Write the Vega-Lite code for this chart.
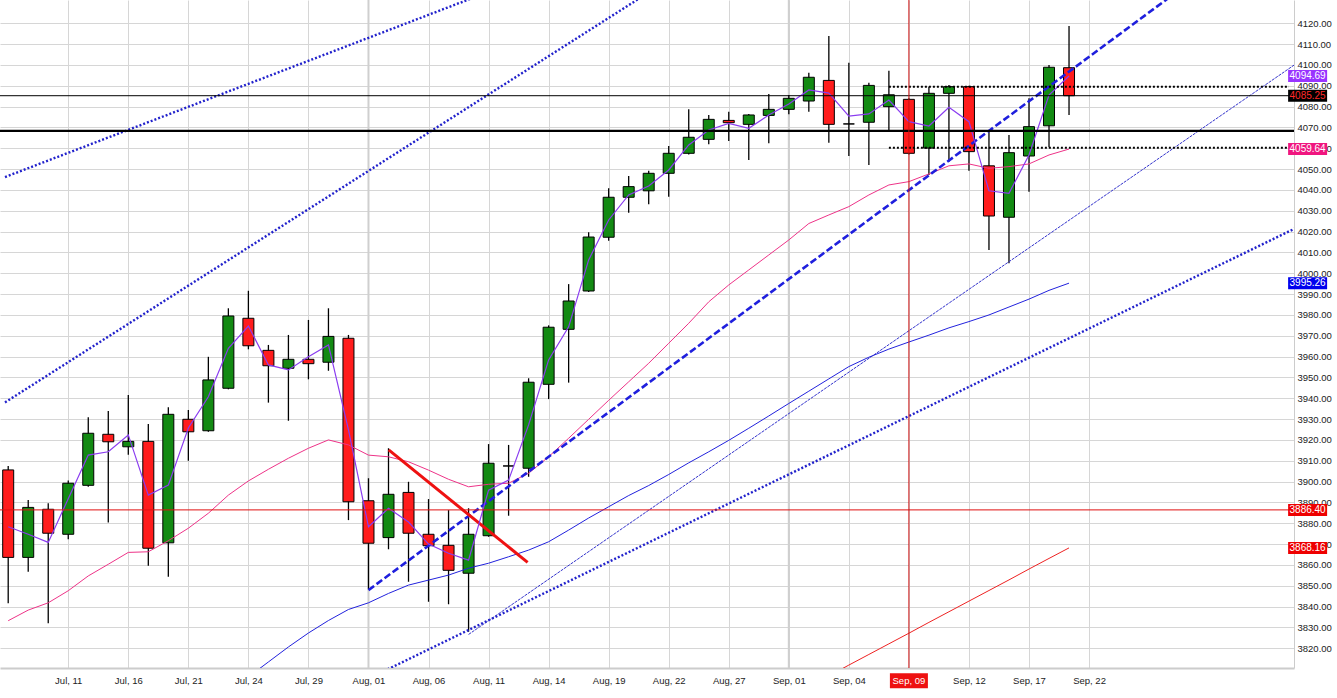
{
  "$schema": "https://vega.github.io/schema/vega-lite/v6.json",
  "width": 1294,
  "height": 668,
  "autosize": {"type": "none"},
  "padding": {"left": 0, "top": 0, "right": 43, "bottom": 30},
  "background": "#ffffff",
  "config": {
    "view": {"stroke": null},
    "axis": {"labelFont": "Liberation Sans", "labelFontSize": 9.5, "labelColor": "#222222"}
  },
  "resolve": {"axis": {"x": "independent", "y": "independent"}},
  "datasets": {
    "candles": [
      {"i":0,"date":"2025-07-08","open":3905.6,"high":3907.5,"low":3841.6,"close":3863.6,"ma_fast":3878.3,"ma_mid":3833.2,"ma_slow":null,"ma_long":null},
      {"i":1,"date":"2025-07-09","open":3863.6,"high":3891.2,"low":3856.7,"close":3887.6,"ma_fast":3874.7,"ma_mid":3838.3,"ma_slow":null,"ma_long":null},
      {"i":2,"date":"2025-07-10","open":3886.7,"high":3889.6,"low":3832.0,"close":3875.2,"ma_fast":3870.8,"ma_mid":3841.8,"ma_slow":null,"ma_long":null},
      {"i":3,"date":"2025-07-11","open":3874.7,"high":3900.5,"low":3872.3,"close":3899.2,"ma_fast":3891.8,"ma_mid":3847.6,"ma_slow":null,"ma_long":null},
      {"i":4,"date":"2025-07-14","open":3898.2,"high":3930.9,"low":3897.5,"close":3923.2,"ma_fast":3912.7,"ma_mid":3854.7,"ma_slow":null,"ma_long":null},
      {"i":5,"date":"2025-07-15","open":3922.7,"high":3933.9,"low":3880.3,"close":3919.1,"ma_fast":3914.3,"ma_mid":3860.3,"ma_slow":null,"ma_long":null},
      {"i":6,"date":"2025-07-16","open":3916.7,"high":3941.6,"low":3912.9,"close":3919.3,"ma_fast":3922.4,"ma_mid":3866.0,"ma_slow":null,"ma_long":null},
      {"i":7,"date":"2025-07-17","open":3919.3,"high":3927.6,"low":3859.6,"close":3868.0,"ma_fast":3893.5,"ma_mid":3866.3,"ma_slow":null,"ma_long":null},
      {"i":8,"date":"2025-07-18","open":3870.6,"high":3935.7,"low":3854.3,"close":3932.3,"ma_fast":3898.3,"ma_mid":3871.6,"ma_slow":null,"ma_long":null},
      {"i":9,"date":"2025-07-21","open":3929.9,"high":3934.4,"low":3910.0,"close":3923.9,"ma_fast":3925.7,"ma_mid":3877.6,"ma_slow":null,"ma_long":null},
      {"i":10,"date":"2025-07-22","open":3924.4,"high":3959.9,"low":3923.9,"close":3948.8,"ma_fast":3940.7,"ma_mid":3884.8,"ma_slow":null,"ma_long":null},
      {"i":11,"date":"2025-07-23","open":3944.8,"high":3983.2,"low":3944.3,"close":3979.5,"ma_fast":3964.0,"ma_mid":3893.5,"ma_slow":null,"ma_long":null},
      {"i":12,"date":"2025-07-24","open":3978.4,"high":3991.6,"low":3963.5,"close":3965.2,"ma_fast":3974.7,"ma_mid":3900.3,"ma_slow":3806.2,"ma_long":null},
      {"i":13,"date":"2025-07-25","open":3963.0,"high":3965.6,"low":3937.9,"close":3955.6,"ma_fast":3956.0,"ma_mid":3905.9,"ma_slow":3813.4,"ma_long":null},
      {"i":14,"date":"2025-07-28","open":3954.4,"high":3970.4,"low":3929.2,"close":3958.7,"ma_fast":3953.6,"ma_mid":3911.2,"ma_slow":3820.6,"ma_long":null},
      {"i":15,"date":"2025-07-29","open":3958.7,"high":3977.6,"low":3949.1,"close":3956.6,"ma_fast":3959.9,"ma_mid":3916.0,"ma_slow":3827.3,"ma_long":null},
      {"i":16,"date":"2025-07-30","open":3957.3,"high":3983.2,"low":3953.2,"close":3969.7,"ma_fast":3965.6,"ma_mid":3920.0,"ma_slow":3833.3,"ma_long":null},
      {"i":17,"date":"2025-07-31","open":3968.8,"high":3970.4,"low":3881.5,"close":3890.3,"ma_fast":3924.8,"ma_mid":3917.6,"ma_slow":3838.6,"ma_long":null},
      {"i":18,"date":"2025-08-01","open":3890.8,"high":3901.6,"low":3848.3,"close":3870.4,"ma_fast":3878.3,"ma_mid":3912.7,"ma_slow":3841.8,"ma_long":null},
      {"i":19,"date":"2025-08-04","open":3873.1,"high":3916.0,"low":3867.5,"close":3893.9,"ma_fast":3887.2,"ma_mid":3911.9,"ma_slow":3846.3,"ma_long":null},
      {"i":20,"date":"2025-08-05","open":3894.8,"high":3899.9,"low":3851.9,"close":3875.2,"ma_fast":3880.6,"ma_mid":3909.5,"ma_slow":3850.3,"ma_long":null},
      {"i":21,"date":"2025-08-06","open":3874.7,"high":3891.6,"low":3842.3,"close":3869.2,"ma_fast":3870.0,"ma_mid":3905.5,"ma_slow":3852.7,"ma_long":null},
      {"i":22,"date":"2025-08-07","open":3869.4,"high":3886.3,"low":3841.1,"close":3857.4,"ma_fast":3865.6,"ma_mid":3901.1,"ma_slow":3855.1,"ma_long":null},
      {"i":23,"date":"2025-08-08","open":3856.0,"high":3887.2,"low":3827.9,"close":3874.7,"ma_fast":3862.3,"ma_mid":3897.5,"ma_slow":3858.4,"ma_long":null},
      {"i":24,"date":"2025-08-11","open":3874.0,"high":3918.0,"low":3873.5,"close":3908.8,"ma_fast":3895.9,"ma_mid":3898.7,"ma_slow":3860.8,"ma_long":null},
      {"i":25,"date":"2025-08-12","open":3907.5,"high":3917.6,"low":3883.6,"close":3907.5,"ma_fast":3900.7,"ma_mid":3899.2,"ma_slow":3863.9,"ma_long":null},
      {"i":26,"date":"2025-08-13","open":3906.4,"high":3949.6,"low":3902.3,"close":3947.7,"ma_fast":3927.2,"ma_mid":3904.0,"ma_slow":3867.1,"ma_long":null},
      {"i":27,"date":"2025-08-14","open":3946.7,"high":3975.0,"low":3939.6,"close":3974.1,"ma_fast":3958.4,"ma_mid":3911.9,"ma_slow":3871.1,"ma_long":null},
      {"i":28,"date":"2025-08-15","open":3973.1,"high":3994.8,"low":3947.5,"close":3986.7,"ma_fast":3974.3,"ma_mid":3920.8,"ma_slow":3876.7,"ma_long":null},
      {"i":29,"date":"2025-08-18","open":3991.5,"high":4019.7,"low":3991.0,"close":4017.4,"ma_fast":4006.4,"ma_mid":3929.9,"ma_slow":3882.5,"ma_long":null},
      {"i":30,"date":"2025-08-19","open":4017.3,"high":4040.8,"low":4015.6,"close":4036.5,"ma_fast":4025.6,"ma_mid":3939.0,"ma_slow":3887.9,"ma_long":null},
      {"i":31,"date":"2025-08-20","open":4036.5,"high":4046.7,"low":4029.1,"close":4041.6,"ma_fast":4037.6,"ma_mid":3947.9,"ma_slow":3893.3,"ma_long":null},
      {"i":32,"date":"2025-08-21","open":4039.6,"high":4049.2,"low":4033.1,"close":4048.0,"ma_fast":4041.9,"ma_mid":3956.8,"ma_slow":3898.1,"ma_long":null},
      {"i":33,"date":"2025-08-22","open":4048.0,"high":4061.1,"low":4036.8,"close":4057.6,"ma_fast":4049.6,"ma_mid":3966.4,"ma_slow":3903.4,"ma_long":null},
      {"i":34,"date":"2025-08-25","open":4057.6,"high":4078.7,"low":4057.0,"close":4065.3,"ma_fast":4061.6,"ma_mid":3976.0,"ma_slow":3909.0,"ma_long":null},
      {"i":35,"date":"2025-08-26","open":4064.3,"high":4076.0,"low":4061.9,"close":4073.9,"ma_fast":4068.8,"ma_mid":3986.3,"ma_slow":3914.3,"ma_long":null},
      {"i":36,"date":"2025-08-27","open":4073.4,"high":4077.6,"low":4063.5,"close":4072.3,"ma_fast":4072.0,"ma_mid":3994.4,"ma_slow":3919.8,"ma_long":null},
      {"i":37,"date":"2025-08-28","open":4071.5,"high":4076.5,"low":4054.4,"close":4076.0,"ma_fast":4069.6,"ma_mid":4001.6,"ma_slow":3925.6,"ma_long":null},
      {"i":38,"date":"2025-08-29","open":4075.8,"high":4086.1,"low":4062.4,"close":4078.7,"ma_fast":4076.0,"ma_mid":4008.8,"ma_slow":3931.5,"ma_long":null},
      {"i":39,"date":"2025-09-01","open":4078.7,"high":4085.6,"low":4076.3,"close":4084.0,"ma_fast":4081.3,"ma_mid":4016.0,"ma_slow":3937.5,"ma_long":null},
      {"i":40,"date":"2025-09-02","open":4082.7,"high":4096.3,"low":4077.6,"close":4094.1,"ma_fast":4088.0,"ma_mid":4023.9,"ma_slow":3943.4,"ma_long":null},
      {"i":41,"date":"2025-09-03","open":4092.6,"high":4113.9,"low":4062.7,"close":4071.5,"ma_fast":4086.5,"ma_mid":4028.0,"ma_slow":3949.3,"ma_long":3806.7},
      {"i":42,"date":"2025-09-04","open":4071.7,"high":4101.1,"low":4056.3,"close":4071.7,"ma_fast":4075.5,"ma_mid":4032.0,"ma_slow":3955.2,"ma_long":3811.9},
      {"i":43,"date":"2025-09-05","open":4072.5,"high":4091.5,"low":4052.0,"close":4090.2,"ma_fast":4076.5,"ma_mid":4037.6,"ma_slow":3959.7,"ma_long":3817.0},
      {"i":44,"date":"2025-09-08","open":4080.0,"high":4097.2,"low":4068.4,"close":4085.7,"ma_fast":4083.2,"ma_mid":4042.4,"ma_slow":3963.6,"ma_long":3822.1},
      {"i":45,"date":"2025-09-09","open":4083.5,"high":4084.0,"low":4057.0,"close":4057.6,"ma_fast":4072.8,"ma_mid":4044.0,"ma_slow":3967.0,"ma_long":3827.2},
      {"i":46,"date":"2025-09-10","open":4060.1,"high":4089.6,"low":4047.2,"close":4086.4,"ma_fast":4070.7,"ma_mid":4047.7,"ma_slow":3970.3,"ma_long":3832.4},
      {"i":47,"date":"2025-09-11","open":4086.4,"high":4090.4,"low":4053.6,"close":4089.6,"ma_fast":4079.7,"ma_mid":4051.6,"ma_slow":3973.8,"ma_long":3837.5},
      {"i":48,"date":"2025-09-12","open":4089.6,"high":4090.0,"low":4049.2,"close":4058.4,"ma_fast":4072.8,"ma_mid":4052.5,"ma_slow":3976.8,"ma_long":3842.6},
      {"i":49,"date":"2025-09-15","open":4051.6,"high":4068.0,"low":4011.2,"close":4027.5,"ma_fast":4039.6,"ma_mid":4050.4,"ma_slow":3980.0,"ma_long":3847.7},
      {"i":50,"date":"2025-09-16","open":4026.9,"high":4066.4,"low":4004.8,"close":4057.9,"ma_fast":4038.4,"ma_mid":4051.2,"ma_slow":3983.8,"ma_long":3852.8},
      {"i":51,"date":"2025-09-17","open":4056.3,"high":4084.0,"low":4039.2,"close":4070.4,"ma_fast":4056.8,"ma_mid":4052.5,"ma_slow":3987.6,"ma_long":3858.0},
      {"i":52,"date":"2025-09-18","open":4070.8,"high":4100.0,"low":4060.5,"close":4098.9,"ma_fast":4085.6,"ma_mid":4056.8,"ma_slow":3991.8,"ma_long":3863.1},
      {"i":53,"date":"2025-09-19","open":4098.7,"high":4118.7,"low":4076.0,"close":4085.25,"ma_fast":4094.69,"ma_mid":4059.64,"ma_slow":3995.26,"ma_long":3868.16}
    ],
    "trend": [
      {"id":"channel_top","i":-0.16,"p":4046.2},{"id":"channel_top","i":30,"p":4157.2},
      {"id":"channel_mid","i":-0.16,"p":3938.0},{"id":"channel_mid","i":40,"p":4183.8},
      {"id":"channel_low","i":15,"p":3791.4},{"id":"channel_low","i":66,"p":4029.5},
      {"id":"support_dash","i":18,"p":3847.9},{"id":"support_dash","i":60,"p":4146.6},
      {"id":"support_thin","i":23,"p":3826.6},{"id":"support_thin","i":66,"p":4111.6},
      {"id":"down_red","i":19.01,"p":3915.2},{"id":"down_red","i":25.95,"p":3861.2}
    ],
    "badges": [
      {"name":"fast","value":4094.69},
      {"name":"last","value":4085.25},
      {"name":"mid","value":4059.64},
      {"name":"slow","value":3995.26},
      {"name":"hline","value":3886.40},
      {"name":"long","value":3868.16}
    ]
  },
  "layer": [
    {
      "data": {"values": [{"i": 18, "month": "Aug"}, {"i": 39, "month": "Sep"}]},
      "mark": {"type": "rule", "color": "#cfcfcf", "strokeWidth": 2},
      "encoding": {
        "x": {"field": "i", "type": "quantitative", "scale": {"domain": [-0.16, 63.99], "nice": false, "zero": false},
          "axis": {"orient": "bottom", "values": [3,6,9,12,15,18,21,24,27,30,33,36,39,42,45,48,51,54],
            "labelExpr": "['Jul, 11','Jul, 16','Jul, 21','Jul, 24','Jul, 29','Aug, 01','Aug, 06','Aug, 11','Aug, 14','Aug, 19','Aug, 22','Aug, 27','Sep, 01','Sep, 04','','Sep, 12','Sep, 17','Sep, 22'][round(datum.value/3)-1]",
            "grid": true, "gridColor": "#d6d6d6", "gridWidth": 1, "tickSize": 0, "domainColor": "#cccccc", "domainWidth": 2,
            "labelPadding": 7, "title": null, "labelFlush": false, "labelOverlap": false}}
      }
    },
    {
      "data": {"name": "candles"},
      "mark": {"type": "rule", "color": "#000000", "strokeWidth": 1.3},
      "encoding": {
        "x": {"field": "i", "type": "quantitative", "scale": {"domain": [-0.16, 63.99], "nice": false, "zero": false}, "axis": null},
        "y": {"field": "low", "type": "quantitative", "scale": {"domain": [3810.5, 4131.2], "nice": false, "zero": false},
          "axis": {"orient": "right", "values": [3820,3830,3840,3850,3860,3870,3880,3890,3900,3910,3920,3930,3940,3950,3960,3970,3980,3990,4000,4010,4020,4030,4040,4050,4060,4070,4080,4090,4100,4110,4120],
            "format": ".2f", "grid": true, "gridColor": "#d6d6d6", "gridWidth": 1, "tickSize": 0, "domainColor": "#cccccc", "domainWidth": 1,
            "labelPadding": 3, "title": null, "labelFlush": false, "labelOverlap": false}},
        "y2": {"field": "high"}
      }
    },
    {
      "data": {"name": "candles"},
      "mark": {"type": "bar", "width": 11, "stroke": "#000000", "strokeWidth": 1},
      "encoding": {
        "x": {"field": "i", "type": "quantitative", "scale": {"domain": [-0.16, 63.99], "nice": false, "zero": false}, "axis": null},
        "y": {"field": "open", "type": "quantitative", "scale": {"domain": [3810.5, 4131.2], "nice": false, "zero": false}, "axis": null},
        "y2": {"field": "close"},
        "fill": {"condition": [{"test": "datum.close > datum.open", "value": "#138a13"}, {"test": "datum.close < datum.open", "value": "#ff1c1c"}], "value": "#000000"}
      }
    },
    {
      "data": {"name": "candles"},
      "transform": [{"filter": "datum.ma_mid != null"}],
      "mark": {"type": "line", "color": "#ee3388", "strokeWidth": 1, "clip": true},
      "encoding": {
        "x": {"field": "i", "type": "quantitative", "scale": {"domain": [-0.16, 63.99], "nice": false, "zero": false}, "axis": null},
        "y": {"field": "ma_mid", "type": "quantitative", "scale": {"domain": [3810.5, 4131.2], "nice": false, "zero": false}, "axis": null}
      }
    },
    {
      "data": {"name": "candles"},
      "transform": [{"filter": "datum.ma_slow != null"}],
      "mark": {"type": "line", "color": "#2222dd", "strokeWidth": 1, "clip": true},
      "encoding": {
        "x": {"field": "i", "type": "quantitative", "scale": {"domain": [-0.16, 63.99], "nice": false, "zero": false}, "axis": null},
        "y": {"field": "ma_slow", "type": "quantitative", "scale": {"domain": [3810.5, 4131.2], "nice": false, "zero": false}, "axis": null}
      }
    },
    {
      "data": {"name": "candles"},
      "transform": [{"filter": "datum.ma_long != null"}],
      "mark": {"type": "line", "color": "#ee2222", "strokeWidth": 1, "clip": true},
      "encoding": {
        "x": {"field": "i", "type": "quantitative", "scale": {"domain": [-0.16, 63.99], "nice": false, "zero": false}, "axis": null},
        "y": {"field": "ma_long", "type": "quantitative", "scale": {"domain": [3810.5, 4131.2], "nice": false, "zero": false}, "axis": null}
      }
    },
    {
      "data": {"name": "trend"},
      "transform": [{"filter": "datum.id == 'channel_top' || datum.id == 'channel_mid' || datum.id == 'channel_low'"}],
      "mark": {"type": "line", "color": "#2222cc", "strokeWidth": 2.4, "strokeDash": [2, 2], "clip": true},
      "encoding": {
        "detail": {"field": "id"},
        "x": {"field": "i", "type": "quantitative", "scale": {"domain": [-0.16, 63.99], "nice": false, "zero": false}, "axis": null},
        "y": {"field": "p", "type": "quantitative", "scale": {"domain": [3810.5, 4131.2], "nice": false, "zero": false}, "axis": null}
      }
    },
    {
      "data": {"name": "trend"},
      "transform": [{"filter": "datum.id == 'support_dash'"}],
      "mark": {"type": "line", "color": "#1f1fdd", "strokeWidth": 2.6, "strokeDash": [7, 3], "clip": true},
      "encoding": {
        "x": {"field": "i", "type": "quantitative", "scale": {"domain": [-0.16, 63.99], "nice": false, "zero": false}, "axis": null},
        "y": {"field": "p", "type": "quantitative", "scale": {"domain": [3810.5, 4131.2], "nice": false, "zero": false}, "axis": null}
      }
    },
    {
      "data": {"name": "trend"},
      "transform": [{"filter": "datum.id == 'support_thin'"}],
      "mark": {"type": "line", "color": "#3333cc", "strokeWidth": 1, "strokeDash": [3, 1], "clip": true},
      "encoding": {
        "x": {"field": "i", "type": "quantitative", "scale": {"domain": [-0.16, 63.99], "nice": false, "zero": false}, "axis": null},
        "y": {"field": "p", "type": "quantitative", "scale": {"domain": [3810.5, 4131.2], "nice": false, "zero": false}, "axis": null}
      }
    },
    {
      "data": {"name": "trend"},
      "transform": [{"filter": "datum.id == 'down_red'"}],
      "mark": {"type": "line", "color": "#ee1111", "strokeWidth": 3, "clip": true},
      "encoding": {
        "x": {"field": "i", "type": "quantitative", "scale": {"domain": [-0.16, 63.99], "nice": false, "zero": false}, "axis": null},
        "y": {"field": "p", "type": "quantitative", "scale": {"domain": [3810.5, 4131.2], "nice": false, "zero": false}, "axis": null}
      }
    },
    {
      "data": {"name": "candles"},
      "mark": {"type": "line", "color": "#8a3cf0", "strokeWidth": 1.2, "clip": true},
      "encoding": {
        "x": {"field": "i", "type": "quantitative", "scale": {"domain": [-0.16, 63.99], "nice": false, "zero": false}, "axis": null},
        "y": {"field": "ma_fast", "type": "quantitative", "scale": {"domain": [3810.5, 4131.2], "nice": false, "zero": false}, "axis": null}
      }
    },
    {
      "data": {"values": [{"level": 4085.25, "kind": "last"}]},
      "mark": {"type": "rule", "color": "#000000", "strokeWidth": 1},
      "encoding": {"y": {"field": "level", "type": "quantitative", "scale": {"domain": [3810.5, 4131.2], "nice": false, "zero": false}, "axis": null}}
    },
    {
      "data": {"values": [{"level": 4068.4, "kind": "resistance"}]},
      "mark": {"type": "rule", "color": "#000000", "strokeWidth": 2.2},
      "encoding": {"y": {"field": "level", "type": "quantitative", "scale": {"domain": [3810.5, 4131.2], "nice": false, "zero": false}, "axis": null}}
    },
    {
      "data": {"values": [{"level": 3886.40, "kind": "hline"}]},
      "mark": {"type": "rule", "color": "#e01010", "strokeWidth": 1},
      "encoding": {"y": {"field": "level", "type": "quantitative", "scale": {"domain": [3810.5, 4131.2], "nice": false, "zero": false}, "axis": null}}
    },
    {
      "data": {"values": [{"level": 4089.6, "from": 44, "to": 63.99}, {"level": 4060.3, "from": 44, "to": 63.99}]},
      "mark": {"type": "rule", "color": "#000000", "strokeWidth": 2, "strokeDash": [2, 2]},
      "encoding": {
        "x": {"field": "from", "type": "quantitative", "scale": {"domain": [-0.16, 63.99], "nice": false, "zero": false}, "axis": null},
        "x2": {"field": "to"},
        "y": {"field": "level", "type": "quantitative", "scale": {"domain": [3810.5, 4131.2], "nice": false, "zero": false}, "axis": null}
      }
    },
    {
      "data": {"values": [{"i": 45, "date": "Sep, 09"}]},
      "mark": {"type": "rule", "color": "#cc1111", "strokeWidth": 1},
      "encoding": {"x": {"field": "i", "type": "quantitative", "scale": {"domain": [-0.16, 63.99], "nice": false, "zero": false}, "axis": null}}
    },
    {
      "data": {"name": "badges"},
      "mark": {"type": "tick", "orient": "horizontal", "size": 39, "thickness": 12, "clip": false, "opacity": 1},
      "encoding": {
        "x": {"datum": 64.92, "type": "quantitative", "scale": {"domain": [-0.16, 63.99], "nice": false, "zero": false}, "axis": null},
        "y": {"field": "value", "type": "quantitative", "scale": {"domain": [3810.5, 4131.2], "nice": false, "zero": false}, "axis": null},
        "color": {"field": "name", "type": "nominal", "legend": null,
          "scale": {"domain": ["fast", "last", "mid", "slow", "hline", "long"], "range": ["#9933ff", "#000000", "#f0167f", "#0000ee", "#ee0000", "#ee0000"]}}
      }
    },
    {
      "data": {"name": "badges"},
      "mark": {"type": "text", "align": "center", "baseline": "middle", "font": "Liberation Sans", "fontSize": 10, "clip": false},
      "encoding": {
        "x": {"datum": 64.92, "type": "quantitative", "scale": {"domain": [-0.16, 63.99], "nice": false, "zero": false}, "axis": null},
        "y": {"field": "value", "type": "quantitative", "scale": {"domain": [3810.5, 4131.2], "nice": false, "zero": false}, "axis": null},
        "text": {"field": "value", "type": "quantitative", "format": ".2f"},
        "fill": {"condition": {"test": "datum.name == 'last'", "value": "#ff2a2a"}, "value": "#ffffff"}
      }
    },
    {
      "data": {"values": [{"i": 45, "date": "Sep, 09", "at": 3804.4}]},
      "mark": {"type": "tick", "orient": "horizontal", "size": 38, "thickness": 15, "color": "#ee1111", "opacity": 1, "clip": false},
      "encoding": {
        "x": {"field": "i", "type": "quantitative", "scale": {"domain": [-0.16, 63.99], "nice": false, "zero": false}, "axis": null},
        "y": {"field": "at", "type": "quantitative", "scale": {"domain": [3810.5, 4131.2], "nice": false, "zero": false}, "axis": null}
      }
    },
    {
      "data": {"values": [{"i": 45, "date": "Sep, 09", "at": 3804.4}]},
      "mark": {"type": "text", "align": "center", "baseline": "middle", "font": "Liberation Sans", "fontSize": 9.5, "color": "#ffffff", "clip": false},
      "encoding": {
        "x": {"field": "i", "type": "quantitative", "scale": {"domain": [-0.16, 63.99], "nice": false, "zero": false}, "axis": null},
        "y": {"field": "at", "type": "quantitative", "scale": {"domain": [3810.5, 4131.2], "nice": false, "zero": false}, "axis": null},
        "text": {"field": "date"}
      }
    }
  ]
}
